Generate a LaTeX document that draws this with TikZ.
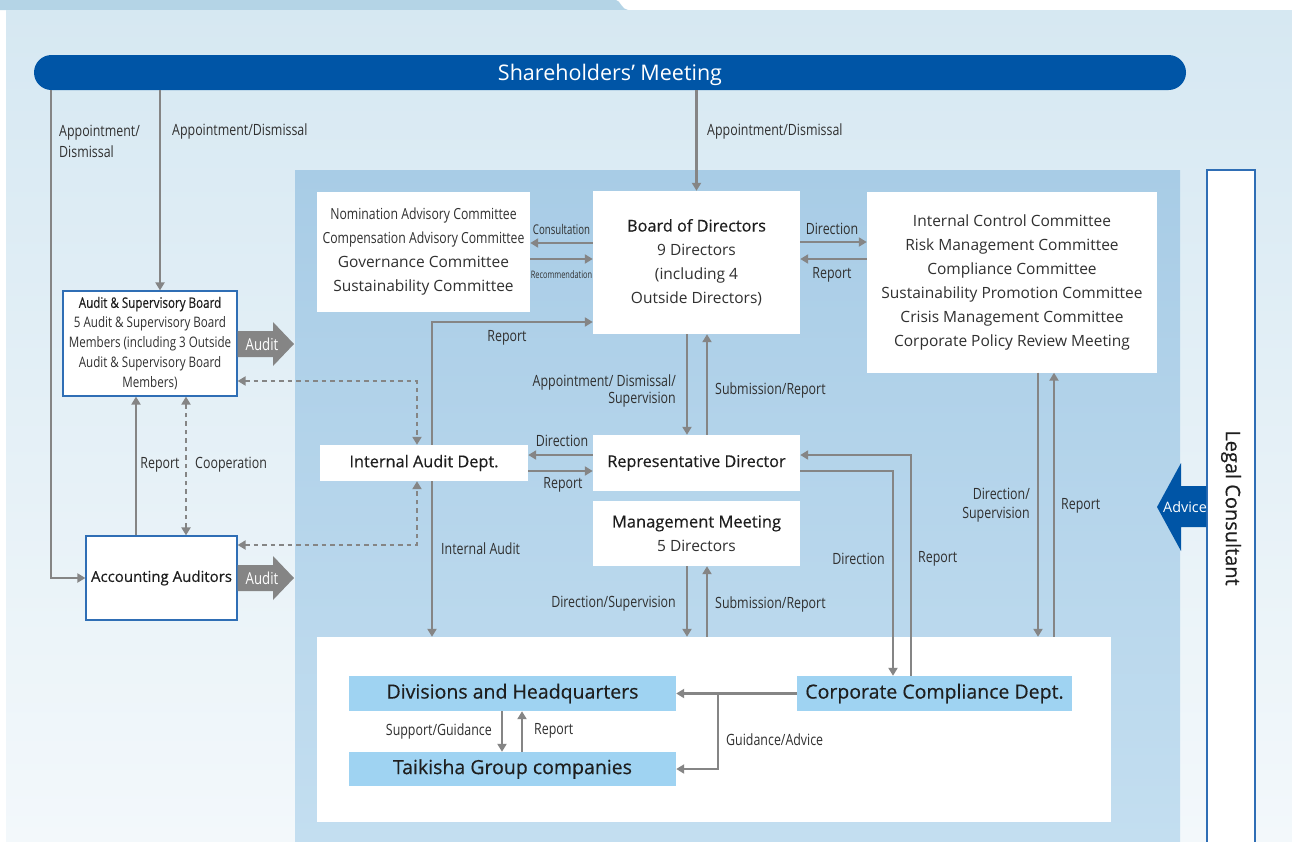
\documentclass[tikz,border=0pt]{standalone}
\usepackage{fontspec}
\setmainfont{Open Sans}
\newfontfamily\condfont[FakeStretch=0.8]{Open Sans}
\newfontfamily\tinyfont[FakeStretch=0.72]{Open Sans}
\newfontfamily\headfont[FakeBold=0.4]{Open Sans}
\newfontfamily\condhead[FakeStretch=0.8,FakeBold=0.4]{Open Sans}
\usetikzlibrary{arrows.meta,calc,positioning}
\definecolor{outertop}{HTML}{D6E8F2}
\definecolor{outerbot}{HTML}{F3F8FB}
\definecolor{tabblue}{HTML}{B4D4E6}
\definecolor{paneltop}{HTML}{A8CCE6}
\definecolor{panelbot}{HTML}{C3DEF0}
\definecolor{pillblue}{HTML}{0055A6}
\definecolor{boxblue}{HTML}{2F6EB5}
\definecolor{unitblue}{HTML}{9FD3F2}
\definecolor{flowgray}{HTML}{858585}
\definecolor{txtgray}{HTML}{303030}
\definecolor{headtxt}{HTML}{1E1E1E}
\newcommand{\lblfont}{\condfont\fontsize{15.5}{17}\selectfont}
\newcommand{\boxfont}{\fontsize{15.5}{24}\selectfont}

\begin{document}
\begin{tikzpicture}[x=1pt,y=-1pt,
  box/.style={fill=white,inner sep=0pt,align=center,text=txtgray,font=\boxfont},
  bluebox/.style={box,draw=boxblue,line width=1.2pt},
  unitbox/.style={fill=unitblue,inner sep=0pt,text=headtxt,font=\headfont\fontsize{19.5}{22}\selectfont},
  flow/.style={draw=flowgray,line width=2.4pt,-{Triangle[length=8pt,width=9pt]}},
  coop/.style={draw=flowgray,line width=2.6pt,dash pattern=on 4.5pt off 4pt,
    {Triangle[length=8pt,width=9pt]}-{Triangle[length=8pt,width=9pt]}},
  lbl/.style={inner sep=0pt,text=txtgray,font=\lblfont,align=center},
  bigarrow/.style={fill=flowgray},
  inarrow/.style={inner sep=0pt,text=white,font=\condfont\fontsize{16.5}{18}\selectfont}]
  \useasboundingbox (0,0) rectangle (1292,841);
  % background
  \fill[white] (0,0) rectangle (1292,841);
  \fill[tabblue] (0,0) -- (616,0) .. controls (620,0) and (622,10) .. (628,10) -- (0,10) -- cycle;
  \shade[top color=outertop,bottom color=outerbot] (6,10) rectangle (1292,841);
  \shade[top color=paneltop,bottom color=panelbot] (295,170) rectangle (1180,841);

  % shareholders
  \node[fill=pillblue,rounded corners=17.5pt,minimum width=1152pt,minimum height=35pt,
    inner sep=0pt,text height=20pt,text depth=5pt,text=white,font=\fontsize{21.5}{24}\selectfont] (shm) at (610,72.5) {Shareholders’ Meeting};

  % legal consultant
  \node[fill=white,draw=boxblue,line width=1.2pt,minimum width=48pt,minimum height=680pt,inner sep=0pt] (legal) at (1231,510) {};
  \node[rotate=-90,text=headtxt,font=\headfont\fontsize{20}{22}\selectfont,inner sep=0pt] (legaltxt) at (1231,508) {Legal Consultant};
  \fill[pillblue] (legal.west |- 0,486) -- (1181,486) -- (1181,463) -- (1157,507)
    -- (1181,551) -- (1181,527) -- (legal.west |- 0,527) -- cycle;
  \node[inner sep=0pt,text=white,font=\fontsize{14.4}{16}\selectfont] (advice) at (1185,507) {Advice};

  % boxes
  \node[box,minimum width=213pt,minimum height=120pt] (nom) at (423.5,252)
    {{\condfont\fontsize{15.3}{24}\selectfont Nomination Advisory Committee}\\{\condfont\fontsize{15.3}{24}\selectfont Compensation Advisory Committee}\\Governance Committee\\Sustainability Committee};
  \node[box,minimum width=207pt,minimum height=143pt] (bod) at (696.5,262.5)
    {{\headfont\color{headtxt}\fontsize{16.3}{24}\selectfont Board of Directors}\\9 Directors\\(including 4\\Outside Directors)};
  \node[box,minimum width=290pt,minimum height=181pt] (icc) at (1012,282)
    {Internal Control Committee\\Risk Management Committee\\Compliance Committee\\Sustainability Promotion Committee\\Crisis Management Committee\\Corporate Policy Review Meeting};
  \node[bluebox,minimum width=174pt,minimum height=105pt,font=\condfont\fontsize{14.5}{20}\selectfont] (asb) at (150,343.5)
    {{\condhead\color{headtxt}Audit \& Supervisory Board}\\5 Audit \& Supervisory Board\\Members (including 3 Outside\\Audit \& Supervisory Board\\Members)};
  \node[bluebox,minimum width=151pt,minimum height=84pt,text=headtxt,font=\headfont\fontsize{15}{18}\selectfont] (aca) at (161.5,578) {Accounting Auditors};
  \node[box,minimum width=208pt,minimum height=36pt,text=headtxt,font=\headfont\fontsize{16.3}{18}\selectfont] (iad) at (424,463) {Internal Audit Dept.};
  \node[box,minimum width=207pt,minimum height=56pt,text=headtxt,font=\headfont\fontsize{16.2}{18}\selectfont] (rep) at (696.5,463) {Representative Director};
  \node[box,minimum width=207pt,minimum height=65pt] (mgm) at (696.5,533.5)
    {{\headfont\color{headtxt}\fontsize{16.5}{24}\selectfont Management Meeting}\\5 Directors};
  \node[fill=white,minimum width=794pt,minimum height=185pt,inner sep=0pt] (grp) at (714,729.5) {};
  \node[unitbox,minimum width=327pt,minimum height=35pt] (div) at (512.5,693.5) {Divisions and Headquarters};
  \node[unitbox,minimum width=327pt,minimum height=34pt] (tgc) at (512.5,769) {Taikisha Group companies};
  \node[unitbox,minimum width=275pt,minimum height=35pt] (ccd) at (934.5,693.5) {Corporate Compliance Dept.};

  % audit arrows
  \fill[bigarrow] (asb.east |- 0,331) -- (273,331) -- (273,322) -- (294,344) -- (273,366) -- (273,357) -- (asb.east |- 0,357) -- cycle;
  \node[inarrow] (auda) at (262,344) {Audit};
  \fill[bigarrow] (aca.east |- 0,565) -- (273,565) -- (273,556) -- (294,578) -- (273,600) -- (273,591) -- (aca.east |- 0,591) -- cycle;
  \node[inarrow] (audb) at (262,578) {Audit};

  % shareholders connectors
  \draw[flow] (bod.north |- shm.south) -- (bod.north);
  \node[lbl,anchor=west] (lapp) at (707,131) {Appointment/Dismissal};
  \draw[flow] ([xshift=10pt]asb.north |- shm.south) -- ([xshift=10pt]asb.north);
  \node[lbl,anchor=west] (lappb) at (172,131) {Appointment/Dismissal};
  \draw[flow] (shm.south -| 51,0) |- (aca.west);
  \node[lbl,anchor=west,align=left,font=\condfont\fontsize{15.5}{21}\selectfont] (lappc) at (59,141.5) {Appointment/\\Dismissal};

  % auditors
  \draw[flow] ([xshift=-25.5pt]aca.north) -- ([xshift=-25.5pt]aca.north |- asb.south);
  \node[lbl] (lrepa) at (160,465) {Report};
  \draw[coop] ([xshift=24.5pt]aca.north) -- ([xshift=24.5pt]aca.north |- asb.south);
  \node[lbl,anchor=west] (lcoop) at (195,465) {Cooperation};
  \draw[coop] (asb.east |- 0,381) -| ([xshift=-7pt]iad.north);
  \draw[coop] (aca.east |- 0,545) -| ([xshift=-7pt]iad.south);

  % advisory committees
  \draw[flow] (bod.west |- 0,243) -- (nom.east |- 0,243);
  \node[inner sep=0pt,text=txtgray,font=\tinyfont\fontsize{13.4}{15}\selectfont] (lcons) at (561.5,229) {Consultation};
  \draw[flow] (nom.east |- 0,259) -- (bod.west |- 0,259);
  \node[inner sep=0pt,text=txtgray,font=\tinyfont\fontsize{10.3}{12}\selectfont] (lrecm) at (561.5,275) {Recommendation};

  % internal control committees
  \draw[flow] (bod.east |- 0,242) -- (icc.west |- 0,242);
  \node[lbl] (ldira) at (832,229) {Direction};
  \draw[flow] (icc.west |- 0,259) -- (bod.east |- 0,259);
  \node[lbl] (lrepb) at (832,275) {Report};

  % internal audit
  \draw[flow] ([xshift=8pt]iad.north) |- (bod.west |- 0,322);
  \node[lbl] (lrepc) at (507,338) {Report};
  \draw[flow] ([xshift=8pt]iad.south) -- ([xshift=8pt]iad.south |- grp.north);
  \node[lbl,anchor=west] (linta) at (441,549) {Internal Audit};
  \draw[flow] (rep.west |- 0,455) -- (iad.east |- 0,455);
  \node[lbl] (ldirb) at (562,441) {Direction};
  \draw[flow] (iad.east |- 0,471) -- (rep.west |- 0,471);
  \node[lbl] (lrepd) at (563,485) {Report};

  % board and representative director
  \draw[flow] ([xshift=-9.5pt]bod.south) -- ([xshift=-9.5pt]rep.north);
  \node[lbl,anchor=east,align=right] (lappd) at (676,390.5) {Appointment/ Dismissal/\\Supervision};
  \draw[flow] ([xshift=10.5pt]rep.north) -- ([xshift=10.5pt]bod.south);
  \node[lbl,anchor=west] (lsuba) at (715,390) {Submission/Report};

  % management meeting
  \draw[flow] ([xshift=-9.5pt]mgm.south) -- ([xshift=-9.5pt]mgm.south |- grp.north);
  \node[lbl,anchor=east] (ldirc) at (676,604) {Direction/Supervision};
  \draw[flow] ([xshift=10.5pt]mgm.south |- grp.north) -- ([xshift=10.5pt]mgm.south);
  \node[lbl,anchor=west] (lsubb) at (715,604) {Submission/Report};

  % corporate compliance
  \draw[flow] (rep.east |- 0,471) -| ([xshift=-41.5pt]ccd.north);
  \node[lbl,anchor=east] (ldird) at (885,559) {Direction};
  \draw[flow] ([xshift=-23.5pt]ccd.north) |- (rep.east |- 0,455);
  \node[lbl,anchor=west] (lrepe) at (918,559) {Report};
  \draw[flow] ([xshift=26pt]icc.south) -- ([xshift=26pt]icc.south |- grp.north);
  \node[lbl,anchor=east,align=right,font=\condfont\fontsize{15.5}{19}\selectfont] (ldire) at (1030,505.5) {Direction/\\Supervision};
  \draw[flow] ([xshift=42pt]icc.south |- grp.north) -- ([xshift=42pt]icc.south);
  \node[lbl,anchor=west] (lrepf) at (1061,506) {Report};

  % group
  \draw[flow] (ccd.west) -- (div.east);
  \coordinate (jn) at (718,693.5);
  \draw[flow] (jn) |- (tgc.east);
  \node[lbl,anchor=west] (lguid) at (726,740) {Guidance/Advice};
  \draw[flow] ([xshift=-10.5pt]div.south) -- ([xshift=-10.5pt]tgc.north);
  \node[lbl,anchor=east] (lsupp) at (492,731) {Support/Guidance};
  \draw[flow] ([xshift=9.5pt]tgc.north) -- ([xshift=9.5pt]div.south);
  \node[lbl,anchor=west] (lrepg) at (534,731) {Report};
\end{tikzpicture}
\end{document}
